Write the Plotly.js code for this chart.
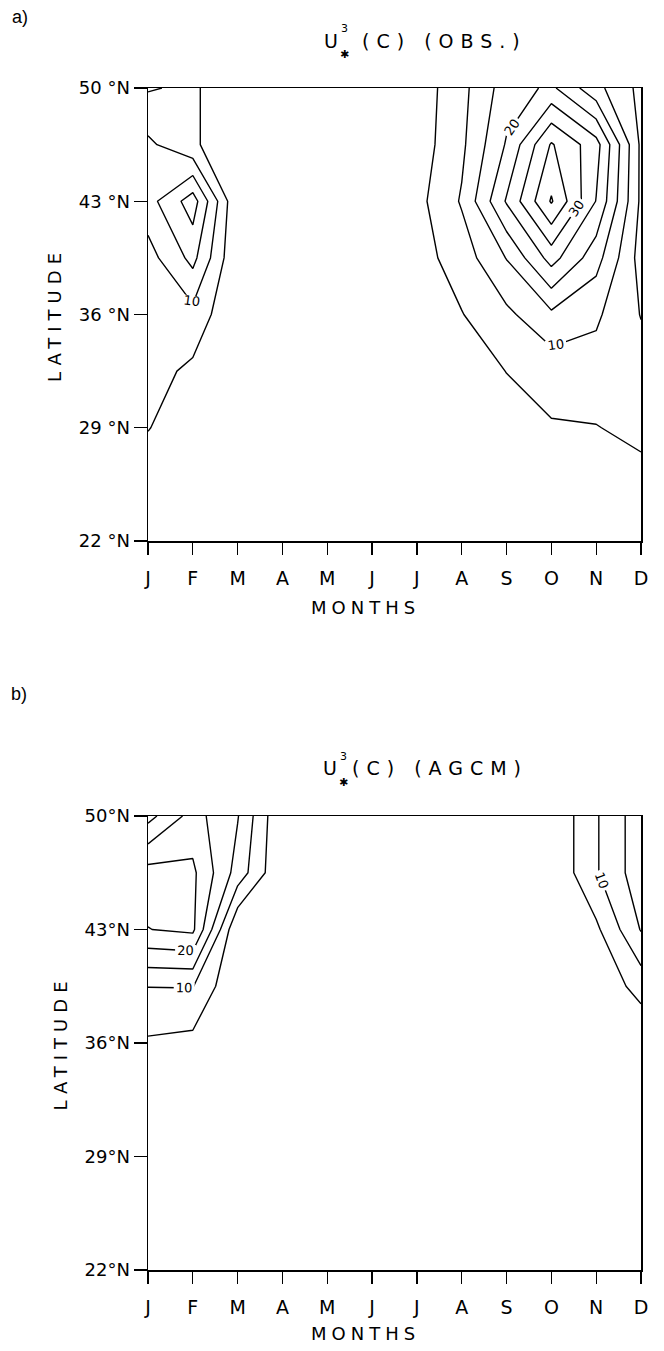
<!DOCTYPE html>
<html>
<head>
<meta charset="utf-8">
<script src="https://cdn.plot.ly/plotly-3.0.1.min.js"></script>
<style>
  html, body { margin: 0; padding: 0; background: #ffffff; }
  #chart { width: 664px; height: 1351px; }
  .ytitle, .y2title { letter-spacing: 6px; }
  .annotation-text.spaced { letter-spacing: 5px; }
  .annotation-text.wide { letter-spacing: 7px; }
</style>
</head>
<body>
<div id="chart"></div>
<script>
// ---------------- data ----------------
const months = ['J','F','M','A','M','J','J','A','S','O','N','D'];
const monthPos = [1,2,3,4,5,6,7,8,9,10,11,12];
const latitudes = [22, 25.5, 29, 32.5, 36, 39.5, 43, 46.5, 50];
const latTickVals = [22, 29, 36, 43, 50];
const latTickTextObs = ['22 °N','29 °N','36 °N','43 °N','50 °N'];
const latTickTextAgcm = ['22°N','29°N','36°N','43°N','50°N'];

// U*^3 (C), observed; rows = latitudes (south -> north), columns = months
const obsU3 = [
  [1.0, 0.5, 0, 0, 0, 0, 0.0, 0.5, 1.0,  1.0,  1.0, 1.5],   // 22
  [2.0, 1.0, 0, 0, 0, 0, 0.5, 1.0, 1.0,  2.0,  2.5, 3.0],   // 25.5
  [5.2, 2.0, 0, 0, 0, 0, 0.5, 1.0, 2.5,  4.6,  4.8, 6.5],   // 29
  [7.0, 3.9, 0, 0, 0, 0, 1.0, 2.0, 5.1,  7.0,  8.0, 7.0],   // 32.5
  [7.5, 8.5, 0, 0, 0, 0, 2.0, 4.8, 8.9, 14.0, 10.8, 4.8],   // 36
  [8.0,16.5, 0, 0, 0, 0, 2.9, 7.4,15.2, 27.0, 17.0, 3.0],   // 39.5
  [13.0,22.5,0, 0, 0, 0, 3.4,10.5,25.5, 40.5, 24.8, 4.0],   // 43
  [11.0,6.0, 0, 0, 0, 0, 2.3, 9.0,20.5, 35.5, 27.0, 4.0],   // 46.5
  [4.55,6.0, 0, 0, 0, 0, 2.0, 8.5,17.5, 21.0, 11.5, 3.6]    // 50
];

// U*^3 (C), AGCM
const agcmU3 = [
  [0.0,  0.0, 0,    0, 0, 0, 0, 0, 0, 0,   0,   0  ],   // 22
  [0.0,  0.0, 0,    0, 0, 0, 0, 0, 0, 0,   0,   0  ],   // 25.5
  [0.5,  0.0, 0,    0, 0, 0, 0, 0, 0, 0,   0,   0  ],   // 29
  [1.5,  1.0, 0,    0, 0, 0, 0, 0, 0, 0,   0,   0  ],   // 32.5
  [4.3,  3.5, 0,    0, 0, 0, 0, 0, 0, 0,   0,   0.5],   // 36
  [10.1,10.2, 0,    0, 0, 0, 0, 0, 0, 0,   1.0, 7.0],   // 39.5
  [24.9,26.0, 0,    0, 0, 0, 0, 0, 0, 0,   4.0,15.3],   // 43
  [27.0,26.0,13.0,  0, 0, 0, 0, 0, 0, 0.5, 9.5,18.0],   // 46.5
  [13.25,22.0,15.3, 0, 0, 0, 0, 0, 0, 0.5, 9.5,18.0]    // 50
];

// ---------------- styling ----------------
const FONT = 'DejaVu Sans, Verdana, sans-serif';
const black = [[0,'#000'],[1,'#000']];

function contourPair(z, xa, ya) {
  const base = {
    type: 'contour', x: monthPos, y: latitudes, z: z,
    xaxis: xa, yaxis: ya, colorscale: black, showscale: false,
    hoverinfo: 'skip', line: {width: 1.4, smoothing: 0}
  };
  const odd = Object.assign({}, base, {
    contours: {coloring: 'lines', start: 5, end: 35, size: 10, showlabels: false}
  });
  const even = Object.assign({}, base, {
    contours: {coloring: 'lines', start: 10, end: 40, size: 10, showlabels: true,
      labelfont: {family: FONT, size: 13, color: '#000'}}
  });
  return [odd, even];
}

const data = [].concat(contourPair(obsU3, 'x', 'y'), contourPair(agcmU3, 'x2', 'y2'));

const L = 148, R = 23, T = 88, B = 81, W = 664, H = 1351;
const pw = W - L - R, ph = H - T - B;
const px = v => (v - L) / pw;
const py = v => (H - B - v) / ph;

function xAxis(anchor) {
  return {
    anchor: anchor, domain: [0, 1], range: [1, 12],
    tickmode: 'array', tickvals: monthPos, ticktext: months,
    ticks: 'outside', ticklen: 12, tickwidth: 1.3, tickcolor: '#000',
    ticklabelstandoff: 8,
    showline: true, mirror: true, linecolor: '#000', linewidth: 1.5,
    showgrid: false, zeroline: false,
    tickfont: {family: FONT, size: 19, color: '#000'}
  };
}
function yAxis(anchor, dom, labels) {
  return {
    anchor: anchor, domain: dom, range: [22, 50],
    tickmode: 'array', tickvals: latTickVals, ticktext: labels,
    ticks: 'outside', ticklen: 13, tickwidth: 1.3, tickcolor: '#000',
    ticklabelstandoff: 0,
    showline: true, mirror: true, linecolor: '#000', linewidth: 1.5,
    showgrid: false, zeroline: false,
    tickfont: {family: FONT, size: 18, color: '#000'},
    title: {text: 'LATITUDE', font: {family: FONT, size: 18, color: '#000'}, standoff: 12}
  };
}

const domA = [py(541), py(88)];
const domB = [py(1270), py(816)];

function ann(text, x, y, size, opts) {
  return Object.assign({
    text: text, xref: 'paper', yref: 'paper', x: px(x), y: py(y),
    xanchor: 'center', yanchor: 'middle', showarrow: false,
    font: {family: FONT, size: size, color: '#000'}
  }, opts || {});
}
const labelFont = {family: 'Liberation Sans, Arial, sans-serif', size: 18, color: '#000'};

const annotations = [
  ann('a)', 20, 17, 18, {font: labelFont}),
  ann('U', 331, 41, 19),
  ann('3', 344, 29, 11),
  ann('✱', 344, 55, 11),
  ann('(C) (OBS.)', 444, 41, 19),
  ann('MONTHS', 365, 607, 18),
  ann('b)', 19, 694, 18, {font: labelFont}),
  ann('U', 330, 768, 19),
  ann('3', 343, 756, 11),
  ann('✱', 343, 782, 11),
  ann('(C) (AGCM)', 440, 768, 19),
  ann('MONTHS', 365, 1333, 18)
];

const layout = {
  width: W, height: H,
  margin: {l: L, r: R, t: T, b: B},
  paper_bgcolor: '#fff', plot_bgcolor: '#fff',
  showlegend: false,
  xaxis: xAxis('y'),
  yaxis: yAxis('x', domA, latTickTextObs),
  xaxis2: xAxis('y2'),
  yaxis2: yAxis('x2', domB, latTickTextAgcm),
  annotations: annotations
};

Plotly.newPlot('chart', data, layout, {staticPlot: true, displayModeBar: false}).then(() => {
  document.querySelectorAll('.annotation-text').forEach(t => {
    const s = t.textContent;
    if (s.indexOf('(') === 0) t.classList.add('wide');
    else if (s === 'MONTHS') t.classList.add('spaced');
  });
});
</script>
</body>
</html>
